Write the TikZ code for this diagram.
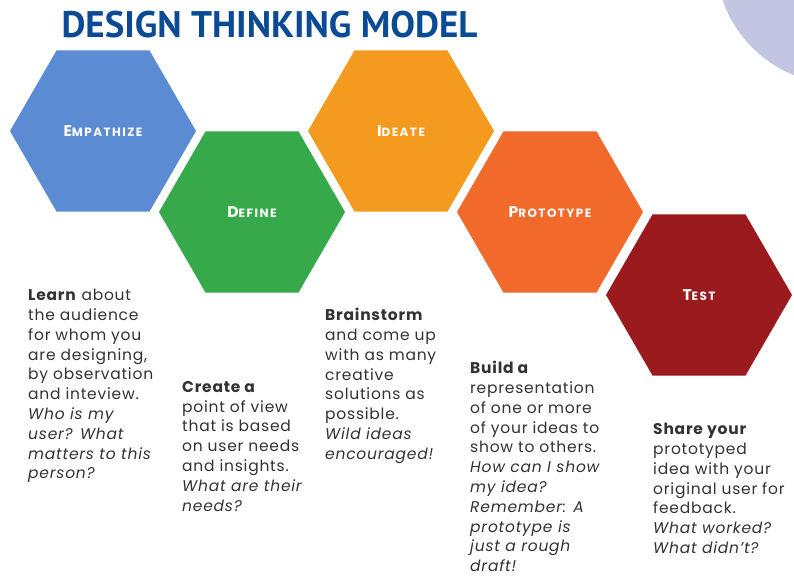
\documentclass[tikz,border=0pt]{standalone}
\usepackage{fontspec}
\setmainfont{Poppins}[LetterSpace=5]
\newfontfamily\titlefont{PT Sans}
\usetikzlibrary{shapes.geometric,positioning}
\definecolor{titleblue}{HTML}{0B4A94}
\definecolor{lavender}{HTML}{C2C6E2}
\definecolor{empblue}{HTML}{5B8BD2}
\definecolor{defgreen}{HTML}{36AA4A}
\definecolor{ideorange}{HTML}{F49A1E}
\definecolor{proorange}{HTML}{F1692B}
\definecolor{tstred}{HTML}{9A1A1D}
\definecolor{notegray}{HTML}{333333}
\newcommand{\stagename}[2]{\addfontfeatures{LetterSpace=12}{\fontsize{15.5}{15.5}\selectfont #1}{\fontsize{12}{12}\selectfont #2}}

\begin{document}
\begin{tikzpicture}[x=1pt, y=-1pt,
hexagon/.style={regular polygon, regular polygon sides=6, minimum size=186pt, inner sep=0pt, text=white, font=\bfseries},
note/.style={anchor=north west, align=left, inner sep=0pt, text=notegray, font=\fontsize{15.5}{19.8}\selectfont},
node distance=81pt and 149pt, on grid,
]
\clip (0,0) rectangle (794,585);
\fill[white] (0,0) rectangle (794,585);
\fill[lavender] (840,-40) circle [radius=124pt];
\node (title) [anchor=base west, text=titleblue, font=\titlefont\bfseries\fontsize{37}{37}\selectfont] at (58,38) {DESIGN THINKING MODEL};

% the five stages
\node (emp) [hexagon, fill=empblue] at (103,131) {\stagename{E}{MPATHIZE}};
\node (def) [hexagon, fill=defgreen, below right=of emp] {\stagename{D}{EFINE}};
\node (ide) [hexagon, fill=ideorange, above right=of def] {\stagename{I}{DEATE}};
\node (pro) [hexagon, fill=proorange, below right=of ide] {\stagename{P}{ROTOTYPE}};
\node (tst) [hexagon, fill=tstred, below right=83pt and 149pt of pro] {\stagename{T}{EST}};

% notes under each stage
\node (empnote) [note] at (28,289) {\textbf{Learn} about\\the audience\\for whom you\\are designing,\\by observation\\and inteview.\\\itshape Who is my\\\itshape user? What\\\itshape matters to this\\\itshape person?};
\node (defnote) [note] at (182,381) {\textbf{Create a}\\point of view\\that is based\\on user needs\\and insights.\\\itshape What are their\\\itshape needs?};
\node (idenote) [note] at (325,308) {\textbf{Brainstorm}\\and come up\\with as many\\creative\\solutions as\\possible.\\\itshape Wild ideas\\\itshape encouraged!};
\node (pronote) [note] at (470,361) {\textbf{Build a}\\representation\\of one or more\\of your ideas to\\show to others.\\\itshape How can I show\\\itshape my idea?\\\itshape Remember: A\\\itshape prototype is\\\itshape just a rough\\\itshape draft!};
\node (tstnote) [note] at (653,423) {\textbf{Share your}\\prototyped\\idea with your\\original user for\\feedback.\\\itshape What worked?\\\itshape What didn't?};
\end{tikzpicture}
\end{document}
